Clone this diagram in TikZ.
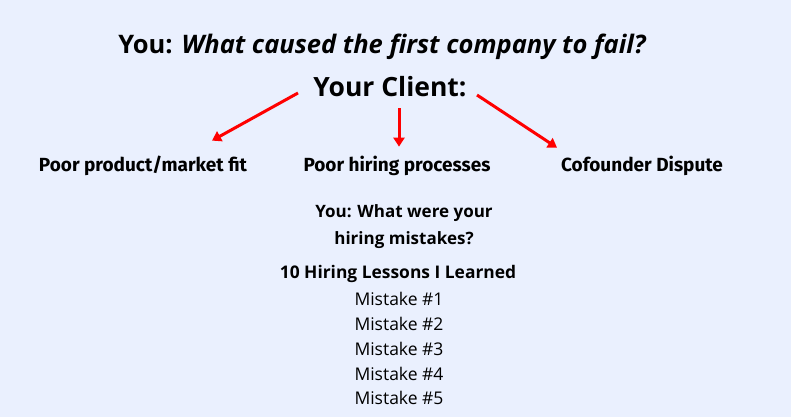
\documentclass[tikz,border=0pt]{standalone}
\usepackage{fontspec}
\setmainfont{Open Sans}
\newfontfamily\labelfont{Fira Sans}
\usetikzlibrary{arrows.meta, calc}
\definecolor{bgblue}{RGB}{234,240,254}
\definecolor{arrowred}{RGB}{255,0,0}

\tikzset{
    pointer/.style={draw=arrowred, line width=3pt, -{Triangle[length=9pt, width=11pt]}},
    cause/.style={font=\labelfont\bfseries\fontsize{19}{22}\selectfont},
    mistake/.style={font=\fontsize{17.5}{20}\selectfont}
}

\begin{document}
\begin{tikzpicture}[x=1pt, y=-1pt]
    \fill[bgblue] (0, 0) rectangle (791, 417);
    \useasboundingbox (0, 0) rectangle (791, 417);
    \node (question) at (382, 47) {\fontsize{25.5}{28}\selectfont\bfseries You: \itshape What caused the first company to fail?};
    \node (client) at (390, 87) {\fontsize{26.5}{30}\selectfont\bfseries Your Client:};
    \node[cause] (fit) at (143, 166) {Poor product/market fit};
    \node[cause] (hiring) at (397, 166) {Poor hiring processes};
    \node[cause] (dispute) at (642, 166) {Cofounder Dispute};
    \coordinate (leftstart) at (298, 93);
    \coordinate (midstart) at (399, 108);
    \coordinate (rightstart) at (477, 95);
    \draw[pointer] (leftstart) -- ($(fit.north)+(69, -12)$);
    \draw[pointer] (midstart) -- ($(hiring.north)+(2, -6)$);
    \draw[pointer] (rightstart) -- ($(dispute.north)+(-85, -5)$);
    \node[align=center, font=\bfseries\fontsize{17}{27}\selectfont] (ask) at (404, 227) {You: What were your\\ hiring mistakes?};
    \node[font=\bfseries\fontsize{17.4}{20}\selectfont] (lessons) at (398, 274) {10 Hiring Lessons I Learned};
    \foreach \n/\y in {1/299, 2/324, 3/349, 4/374, 5/398}
        \node[mistake] (mistake\n) at (399, \y) {Mistake \#\n};
\end{tikzpicture}
\end{document}
